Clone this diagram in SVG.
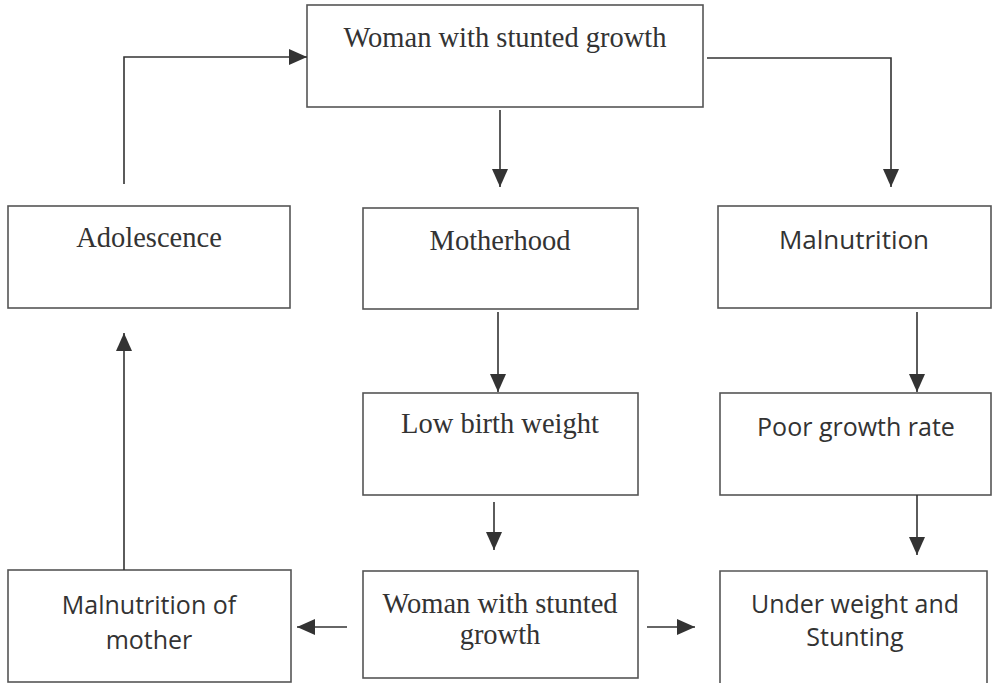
<svg xmlns="http://www.w3.org/2000/svg" width="992" height="683" viewBox="0 0 992 683">
<style>
.box{fill:#fff;stroke:#555;stroke-width:1.6}
.serif{font-family:"Liberation Serif","Times New Roman",serif;font-size:28.5px;fill:#333;text-anchor:middle}
.sans{font-family:"Open Sans","Liberation Sans",sans-serif;font-size:25px;fill:#333;text-anchor:middle}
.conn{fill:none;stroke:#333;stroke-width:1.6}
</style>
<defs>
<marker id="ah" markerUnits="userSpaceOnUse" markerWidth="18" markerHeight="16" refX="18" refY="8" orient="auto">
<path d="M0,0 L18,8 L0,16 Z" fill="#333"/>
</marker>
</defs>
<rect width="992" height="683" fill="#fff"/>
<g id="n-top"><rect class="box" x="307" y="5" width="396" height="102"/><text class="serif" x="505" y="47">Woman with stunted growth</text></g>
<g id="n-adolescence"><rect class="box" x="8" y="206" width="282" height="102"/><text class="serif" x="149" y="247">Adolescence</text></g>
<g id="n-motherhood"><rect class="box" x="363" y="208" width="275" height="101"/><text class="serif" x="500" y="250">Motherhood</text></g>
<g id="n-malnutrition"><rect class="box" x="718" y="206" width="273" height="102"/><text class="sans" x="854" y="249" style="font-size:26px">Malnutrition</text></g>
<g id="n-lbw"><rect class="box" x="363" y="393" width="275" height="102"/><text class="serif" x="500" y="433">Low birth weight</text></g>
<g id="n-poor"><rect class="box" x="720" y="393" width="271" height="102"/><text class="sans" x="856" y="436">Poor growth rate</text></g>
<g id="n-malmother"><rect class="box" x="8" y="570" width="283" height="112"/><text class="sans" x="149" y="614">Malnutrition of</text><text class="sans" x="149" y="649">mother</text></g>
<g id="n-woman2"><rect class="box" x="363" y="571" width="275" height="107"/><text class="serif" x="500" y="613">Woman with stunted</text><text class="serif" x="500" y="644">growth</text></g>
<g id="n-under"><path class="box" d="M720,690 V571 H987 V690"/><text class="sans" x="855" y="613">Under weight and</text><text class="sans" x="855" y="646">Stunting</text></g>
<g id="connectors">
<path class="conn" d="M124,184 V57 H307" marker-end="url(#ah)"/>
<path class="conn" d="M707,58 H891 V187" marker-end="url(#ah)"/>
<path class="conn" d="M500,110 V187" marker-end="url(#ah)"/>
<path class="conn" d="M498,312 V392" marker-end="url(#ah)"/>
<path class="conn" d="M917,312 V392" marker-end="url(#ah)"/>
<path class="conn" d="M494,502 V550" marker-end="url(#ah)"/>
<path class="conn" d="M917,495 V555" marker-end="url(#ah)"/>
<path class="conn" d="M347,627 H297" marker-end="url(#ah)"/>
<path class="conn" d="M647,627 H695" marker-end="url(#ah)"/>
<path class="conn" d="M124,570 V333" marker-end="url(#ah)"/>
</g>
</svg>
